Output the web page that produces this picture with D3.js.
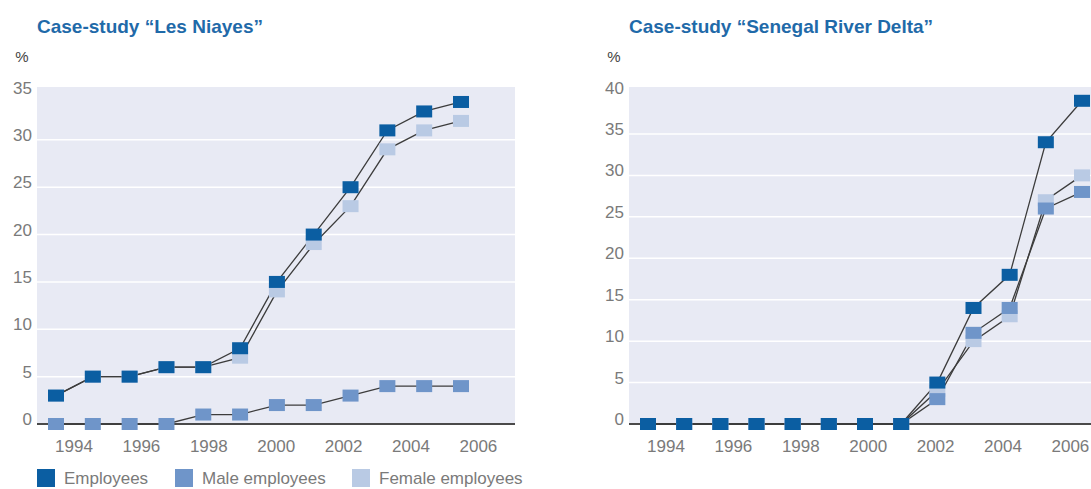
<!DOCTYPE html>
<html>
<head>
<meta charset="utf-8">
<script src="https://cdn.jsdelivr.net/npm/d3@7"></script>
<style>
  body { margin: 0; background: #fff; }
  .tick-label { font-family: "Liberation Sans", Arial, sans-serif; fill: #7a7a7a; font-size: 17px; }
  .title { font-family: "Liberation Sans Narrow", "Arial Narrow", "Liberation Sans", sans-serif; font-weight: bold; fill: #1f6aa9; font-size: 19px; }
</style>
</head>
<body>
<div id="chart"></div>
<script>
// data
const niayesYears = ["1994", "1995", "1996", "1997", "1998", "1999", "2000", "2001", "2002", "2003", "2004", "2005"];
const niayesEmployees = [3, 5, 5, 6, 6, 8, 15, 20, 25, 31, 33, 34];
const niayesMale = [0, 0, 0, 0, 1, 1, 2, 2, 3, 4, 4, 4];
const niayesFemale = [3, 5, 5, 6, 6, 7, 14, 19, 23, 29, 31, 32];

const deltaYears = ["1994", "1995", "1996", "1997", "1998", "1999", "2000", "2001", "2002", "2003", "2004", "2005", "2006"];
const deltaEmployees = [0, 0, 0, 0, 0, 0, 0, 0, 5, 14, 18, 34, 39];
const deltaMale = [0, 0, 0, 0, 0, 0, 0, 0, 3, 11, 14, 26, 28];
const deltaFemale = [0, 0, 0, 0, 0, 0, 0, 0, 4, 10, 13, 27, 30];

const axisYears = [1994, 1996, 1998, 2000, 2002, 2004, 2006];
const seriesNames = ["Employees", "Male employees", "Female employees"];
const seriesColors = ["#0b5ea2", "#6f95c9", "#b9cae4"];

const W = 1091, H = 489;
const svg = d3.select("#chart").append("svg")
    .attr("width", W).attr("height", H);

function drawPanel(p) {
    const g = svg.append("g");
    const y = d3.scaleLinear().domain([0, p.yMax]).range([424, 92.5]);
    const xTicks = d3.scaleLinear().domain([1994, 2006]).range([p.left + 37, p.left + 37 + 12 * 33.7]);
    const x = d3.scalePoint().domain(p.years).range([p.left + 19, p.pointEnd]);

    // title and unit
    g.append("text").attr("class", "title")
        .attr("x", p.left).attr("y", 33).text(p.title);
    g.append("text").attr("class", "tick-label")
        .attr("x", p.left - 15).attr("y", 62).attr("text-anchor", "middle")
        .style("fill", "#444").style("font-size", "15px").text("%");

    // background
    g.append("rect")
        .attr("x", p.left).attr("y", 87)
        .attr("width", p.right - p.left).attr("height", 424 - 87)
        .attr("fill", "#e8eaf4");

    // grid
    const yTicks = d3.range(0, p.yMax + 1, 5);
    g.selectAll(".grid").data(yTicks.filter(d => d > 0 && d < p.yMax)).enter()
        .append("line")
        .attr("x1", p.left).attr("x2", p.right)
        .attr("y1", d => y(d)).attr("y2", d => y(d))
        .attr("stroke", "#fff").attr("stroke-width", 1.5);

    g.selectAll(".ylab").data(yTicks).enter()
        .append("text").attr("class", "tick-label")
        .attr("x", p.left - 5).attr("y", d => y(d) + 1)
        .attr("text-anchor", "end").text(d => d);

    // baseline
    g.append("line")
        .attr("x1", p.left).attr("x2", p.right)
        .attr("y1", y(0)).attr("y2", y(0))
        .attr("stroke", "#4a4a4a").attr("stroke-width", 2);

    g.selectAll(".xlab").data(axisYears).enter()
        .append("text").attr("class", "tick-label")
        .attr("x", d => xTicks(d)).attr("y", 452)
        .attr("text-anchor", "middle").text(d => d);

    // series: female, male, employees (employees on top)
    const order = [2, 1, 0];
    const line = d3.line().x((d, i) => x(p.years[i])).y(d => y(d));
    order.forEach(k => {
        g.append("path").datum(p.series[k])
            .attr("d", line).attr("fill", "none")
            .attr("stroke", "#3c3c3c").attr("stroke-width", 1.3);
    });
    order.forEach(k => {
        g.selectAll(".m" + k).data(p.series[k]).enter()
            .append("rect")
            .attr("x", (d, i) => x(p.years[i]) - 8)
            .attr("y", d => y(d) - 6)
            .attr("width", 16).attr("height", 12)
            .attr("fill", seriesColors[k]);
    });
}

drawPanel({
    title: "Case-study \u201cLes Niayes\u201d",
    left: 37, right: 515, pointEnd: 461, yMax: 35,
    years: niayesYears,
    series: [niayesEmployees, niayesMale, niayesFemale]
});

drawPanel({
    title: "Case-study \u201cSenegal River Delta\u201d",
    left: 629, right: 1091, pointEnd: 1082, yMax: 40,
    years: deltaYears,
    series: [deltaEmployees, deltaMale, deltaFemale]
});

// legend
const legendX = [37, 175, 352];
const legend = svg.append("g");
seriesNames.forEach((name, i) => {
    legend.append("rect")
        .attr("x", legendX[i]).attr("y", 469)
        .attr("width", 18).attr("height", 18)
        .attr("fill", seriesColors[i]);
    legend.append("text").attr("class", "tick-label")
        .attr("x", legendX[i] + 27).attr("y", 484)
        .text(name);
});
</script>
</body>
</html>
